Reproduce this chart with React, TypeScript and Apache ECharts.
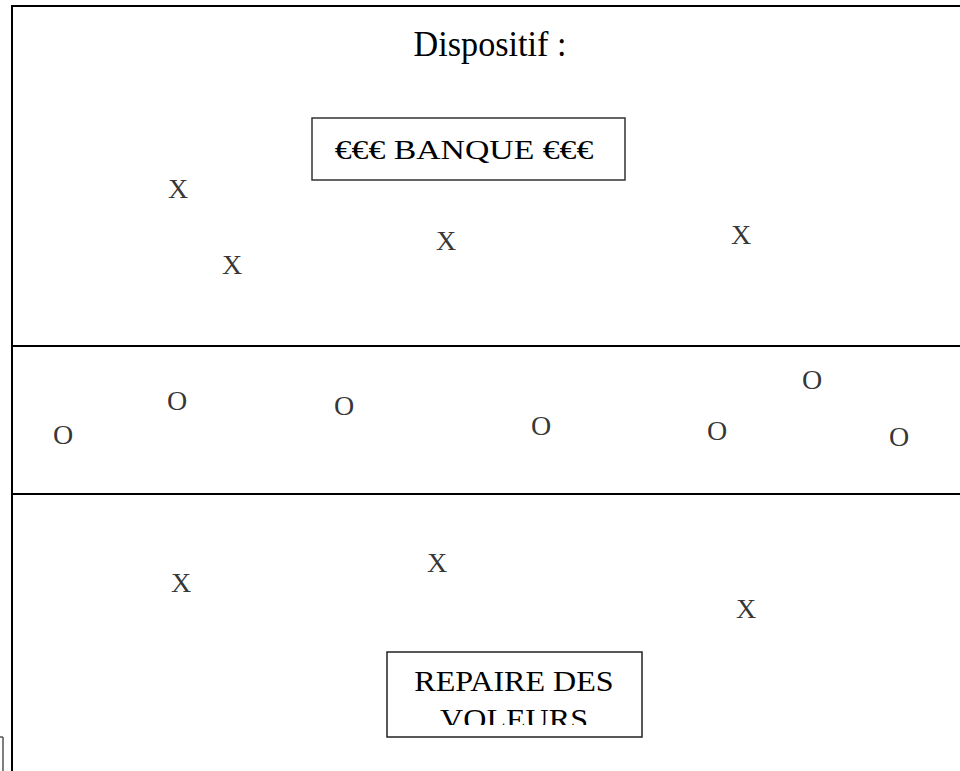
import React, { useEffect, useRef } from "react";
import * as echarts from "echarts";

const titleText = "Dispositif :";
const bankLabel = "€€€ BANQUE €€€";
const lairLines = ["REPAIRE DES", "VOLEURS"];
const markX = "X";
const markO = "O";
// positions of the marks on the diagram (pixel-like units of the sheet)
const xMarksTop: number[][] = [
  [178, 188],
  [232, 264],
  [446, 240],
  [741, 234],
];
const xMarksBottom: number[][] = [
  [181, 582],
  [437, 562],
  [746, 608],
];
const oMarks: number[][] = [
  [63, 434],
  [177, 400],
  [344, 405],
  [541, 425],
  [717, 430],
  [812, 379],
  [899, 436],
];

const FONT = "'Liberation Serif', 'Times New Roman', serif";

export default function App() {
  const ref = useRef<HTMLDivElement>(null);
  useEffect(() => {
    if (!ref.current) return;
    const chart = echarts.init(ref.current, undefined, { renderer: "svg" });
    const markLabel = (txt: string) => ({
      show: true,
      position: "inside" as const,
      formatter: () => txt,
      fontFamily: FONT,
      fontSize: 28,
      color: "#000",
    });
    const line = (x1: number, y1: number, x2: number, y2: number, w = 2, c = "#000") => ({
      type: "line",
      shape: { x1, y1, x2, y2 },
      style: { stroke: c, lineWidth: w },
      silent: true,
    });
    const text = (t: string, x: number, y: number, size: number, sx: number, z = 11) => ({
      type: "text",
      x,
      y,
      scaleX: sx,
      style: {
        text: t,
        fontFamily: FONT,
        fontSize: size,
        fill: "#000",
        align: "center",
        verticalAlign: "middle",
      },
      z,
    });
    chart.setOption({
      animation: false,
      backgroundColor: "#fff",
      grid: { left: 0, right: 0, top: 0, bottom: 0 },
      xAxis: { type: "value", min: 0, max: 960, show: false },
      yAxis: { type: "value", min: 0, max: 771, inverse: true, show: false },
      series: [
        {
          type: "scatter",
          name: "X haut",
          data: xMarksTop,
          symbolSize: 1,
          itemStyle: { color: "rgba(0,0,0,0)" },
          label: markLabel(markX),
          silent: true,
        },
        {
          type: "scatter",
          name: "O",
          data: oMarks,
          symbolSize: 1,
          itemStyle: { color: "rgba(0,0,0,0)" },
          label: markLabel(markO),
          silent: true,
        },
        {
          type: "scatter",
          name: "X bas",
          data: xMarksBottom,
          symbolSize: 1,
          itemStyle: { color: "rgba(0,0,0,0)" },
          label: markLabel(markX),
          silent: true,
        },
      ],
      graphic: [
        line(12, 6, 960, 6),
        line(12, 5, 12, 771),
        line(12, 346, 960, 346),
        line(12, 494, 960, 494),
        line(0, 737, 3, 737, 1.5, "#555"),
        line(3, 737, 3, 771, 1.5, "#555"),
        text(titleText, 490, 44, 36, 0.95),
        {
          type: "rect",
          shape: { x: 312, y: 118, width: 313, height: 62 },
          style: { fill: "#fff", stroke: "#333", lineWidth: 1.5 },
          z: 10,
        },
        text(bankLabel, 464, 150, 27, 1.25),
        {
          type: "rect",
          shape: { x: 387, y: 652, width: 255, height: 85 },
          style: { fill: "#fff", stroke: "none" },
          z: 10,
        },
        text(lairLines[0], 514, 681, 30, 1.07),
        text(lairLines[1], 514, 719, 30, 1.07),
        {
          type: "rect",
          shape: { x: 388, y: 725, width: 253, height: 11.5 },
          style: { fill: "#fff", stroke: "none" },
          z: 12,
        },
        {
          type: "rect",
          shape: { x: 387, y: 652, width: 255, height: 85 },
          style: { fill: "none", stroke: "#222", lineWidth: 1.5 },
          z: 13,
        },
      ],
    });
    return () => chart.dispose();
  }, []);
  return (
    <div
      ref={ref}
      style={{ position: "fixed", left: 0, top: 0, width: 960, height: 771, background: "#fff" }}
    />
  );
}
